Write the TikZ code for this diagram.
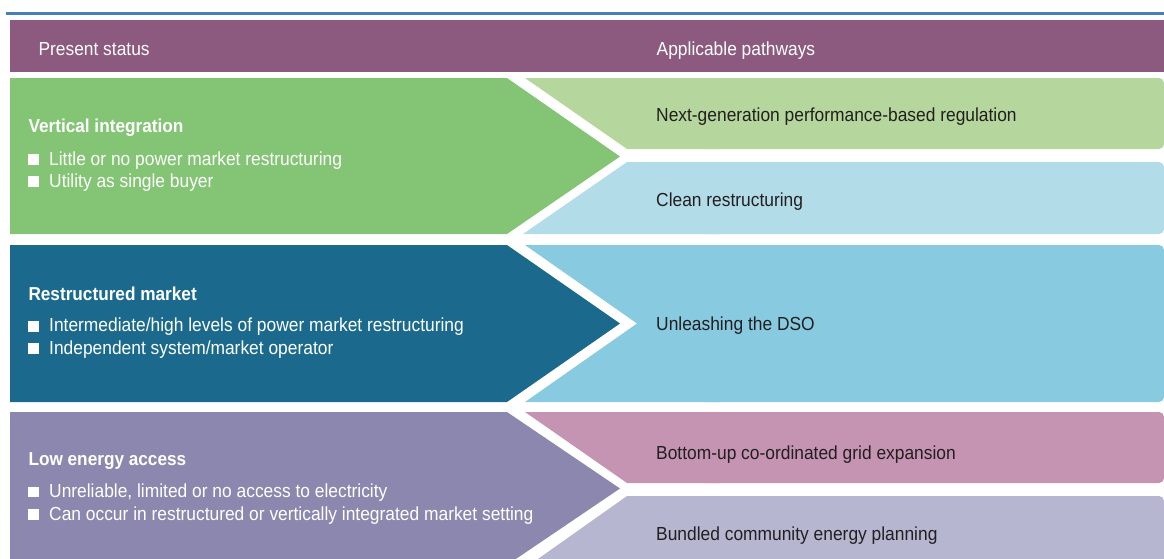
\documentclass[tikz,border=0pt]{standalone}
\usepackage{fontspec}
\setmainfont{Liberation Sans}[FakeStretch=0.92]
\definecolor{topline}{HTML}{4A7EBB}
\definecolor{hdr}{HTML}{8C5A7E}
\definecolor{vgreen}{HTML}{83C574}
\definecolor{lgreen}{HTML}{B5D69C}
\definecolor{lblue}{HTML}{B3DCE9}
\definecolor{dblue}{HTML}{1B6A8D}
\definecolor{cyanbox}{HTML}{88CADF}
\definecolor{lowpurple}{HTML}{8B87AE}
\definecolor{pinkbox}{HTML}{C494B2}
\definecolor{lavbox}{HTML}{B6B6D0}
\definecolor{darktext}{HTML}{231F20}
\begin{document}
\begin{tikzpicture}[x=1pt,y=-1pt,
  txt/.style={inner sep=0pt,anchor=base west,font=\fontsize{18.9}{22}\selectfont},
  lefttxt/.style={txt,text=white},
  headtxt/.style={txt,text=white,font=\fontsize{18.7}{22}\selectfont\bfseries},
  righttxt/.style={txt,text=darktext},
  bulletsq/.style={fill=white,inner sep=0pt,minimum width=11pt,minimum height=10.5pt,anchor=south west}
]
\useasboundingbox (0,0) rectangle (1164,558);
\clip (0,0) rectangle (1164,558);
% top line
\fill[topline] (6,12.2) rectangle (1164,15);
% header
\fill[hdr] (10,20) rectangle (1164,72);
\node[lefttxt] (hps) at (38.3,55) {Present status};
\node[lefttxt] (hap) at (656.5,55) {Applicable pathways};

% ---- left arrow shapes
\fill[vgreen] (10,78) -- (507,78) -- (620,156.5) -- (507,234) -- (10,234) -- cycle;
\fill[dblue] (10,245) -- (507,245) -- (620,323.5) -- (507,402) -- (10,402) -- cycle;
\fill[lowpurple] (10,412) -- (507,412) -- (620,488.5) -- (507,565) -- (10,565) -- cycle;

% ---- right boxes
\fill[lgreen] (525,78) -- (720,78) -- (720,149) -- (627,149) -- cycle;
\fill[lgreen,rounded corners=5pt] (700,78) rectangle (1164,149);
\fill[lblue] (627,162) -- (720,162) -- (720,234) -- (523,234) -- cycle;
\fill[lblue,rounded corners=5pt] (700,162) rectangle (1164,234);
\fill[cyanbox] (525,245) -- (720,245) -- (720,402) -- (525,402) -- (637,323.5) -- cycle;
\fill[cyanbox,rounded corners=5pt] (700,245) rectangle (1164,402);
\fill[pinkbox] (525,412) -- (720,412) -- (720,483) -- (627,483) -- cycle;
\fill[pinkbox,rounded corners=5pt] (700,412) rectangle (1164,483);
\fill[lavbox] (627,496) -- (720,496) -- (720,566) -- (528,566) -- cycle;
\fill[lavbox,rounded corners=5pt] (700,496) rectangle (1164,566);

% ---- left texts
\node[headtxt] (vi) at (28.3,132.5) {Vertical integration};
\node[bulletsq] (vib1) at (27.3,165) {};
\node[lefttxt] (vit1) at (49,165) {Little or no power market restructuring};
\node[bulletsq] (vib2) at (27.3,187) {};
\node[lefttxt] (vit2) at (49,187) {Utility as single buyer};

\node[headtxt] (rm) at (28.3,300) {Restructured market};
\node[bulletsq] (rmb1) at (27.3,331.7) {};
\node[lefttxt] (rmt1) at (49,331.7) {Intermediate/high levels of power market restructuring};
\node[bulletsq] (rmb2) at (27.3,354) {};
\node[lefttxt] (rmt2) at (49,354) {Independent system/market operator};

\node[headtxt] (le) at (28.3,465) {Low energy access};
\node[bulletsq] (leb1) at (27.3,497.3) {};
\node[lefttxt] (let1) at (49,497.3) {Unreliable, limited or no access to electricity};
\node[bulletsq] (leb2) at (27.3,520) {};
\node[lefttxt] (let2) at (49,520) {Can occur in restructured or vertically integrated market setting};

% ---- right texts
\node[righttxt] (p1) at (656,121.7) {Next-generation performance-based regulation};
\node[righttxt] (p2) at (656,206.7) {Clean restructuring};
\node[righttxt] (p3) at (656,330) {Unleashing the DSO};
\node[righttxt] (p4) at (656,459) {Bottom-up co-ordinated grid expansion};
\node[righttxt] (p5) at (656,540.7) {Bundled community energy planning};
\end{tikzpicture}
\end{document}
